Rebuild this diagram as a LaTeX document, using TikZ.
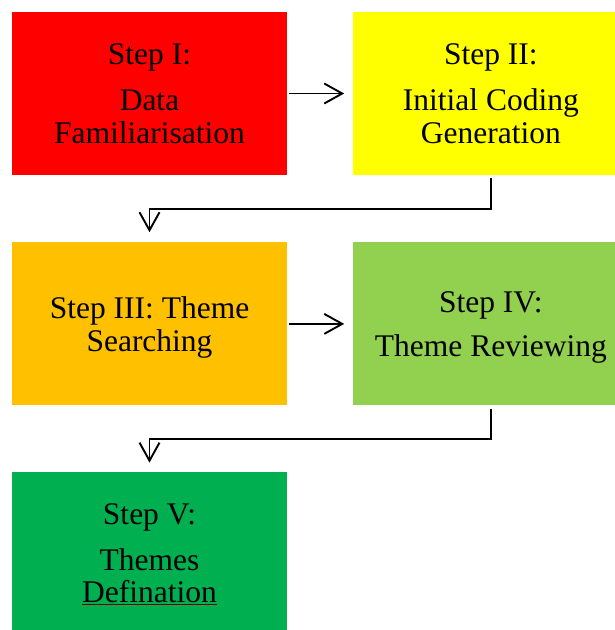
\documentclass[tikz,border=0pt]{standalone}
\usepackage{fontspec}
\setmainfont{Liberation Serif}
\usepackage{tikz}
\usetikzlibrary{arrows.meta,positioning,calc}
\usepackage{xcolor}

\definecolor{stepred}{HTML}{FF0000}
\definecolor{stepyellow}{HTML}{FFFF00}
\definecolor{steporange}{HTML}{FFC000}
\definecolor{steplime}{HTML}{92D050}
\definecolor{stepgreen}{HTML}{00B050}

\begin{document}
\begin{tikzpicture}[
    node distance=66pt,
    box/.style={rectangle, minimum width=275pt, minimum height=163pt, inner sep=0pt,
        align=center, text depth=0pt, font=\fontsize{31.5}{32.5}\selectfont},
    arrow/.style={-{Straight Barb[length=18pt,width=20pt]}, line width=1.9pt}
]
    \useasboundingbox (0,0) rectangle (615pt,-630pt);
    \node[box, fill=stepred] at (149.5pt,-93.5pt) (data) {Step I:\\[14pt]Data\\Familiarisation};
    \node[box, fill=stepyellow, right=of data] (coding) {Step II:\\[14pt]Initial Coding\\Generation};
    \node[box, fill=steporange, below=67pt of data] (search) {Step III: Theme\\Searching};
    \node[box, fill=steplime, right=of search] (review) {Step IV:\\[11pt]Theme Reviewing};
    \node[box, fill=stepgreen, below=of search] (define) {Step V:\\[13pt]Themes\\{\color{red!45!black}\underline{\color{black}Defination}}};

    \draw[arrow, shorten <=2pt, shorten >=9pt] (data) -- (coding);
    \draw[arrow, shorten <=3pt, shorten >=10pt] (coding.south) -- ++(0,-34pt) -| (search.north);
    \draw[arrow, shorten <=2pt, shorten >=9pt] (search) -- (review);
    \draw[arrow, shorten <=3pt, shorten >=9pt] (review.south) -- ++(0,-33pt) -| (define.north);
\end{tikzpicture}
\end{document}
